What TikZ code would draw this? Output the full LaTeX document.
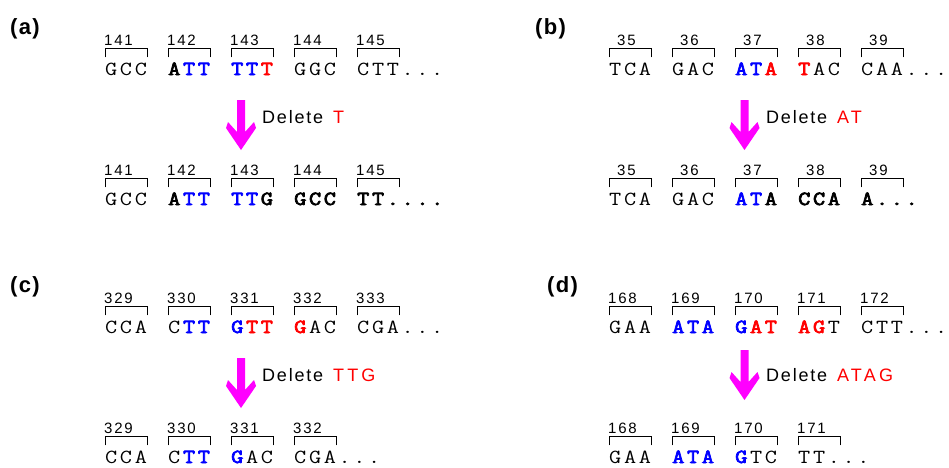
\documentclass[tikz,border=0pt]{standalone}
\usepackage{fontspec}
\setmainfont{Liberation Sans}
\newfontfamily\numfont[LetterSpace=12]{Liberation Sans}
\newfontfamily\delfont[LetterSpace=10]{Liberation Sans}
\newfontfamily\redfont[LetterSpace=18]{Liberation Sans}
\newfontfamily\lblfont[LetterSpace=6]{Liberation Sans}
\newfontfamily\dnafont[FakeStretch=1.18]{Latin Modern Mono}
\newfontfamily\dnabf[FakeStretch=1.18,FakeBold=3.6]{Latin Modern Mono}
\definecolor{arrmag}{RGB}{255,0,255}
\definecolor{dnablue}{RGB}{0,0,255}
\definecolor{dnared}{RGB}{255,0,0}
\makeatletter
\newlength\cw \setlength\cw{14.8pt}
\newcommand\dn[1]{\@tfor\dnx:=#1\do{\makebox[\cw][l]{\dnx}}}
\makeatother
\newcommand\BB{\dnabf\color{dnablue}}
\newcommand\BR{\dnabf\color{dnared}}
\newcommand\BK{\dnabf\color{black}}
\newcommand\NK{\dnafont\color{black}}
% #1 name, #2 x, #3 number baseline y, #4 number, #5 number x offset, #6 letters
\newcommand\codon[6]{%
  \node[numsty, anchor=base west] (#1n) at (#2+#5, #3) {#4};
  \draw[brk] (#2, #3+12) -- (#2, #3+3.3) -- (#2+42.7, #3+3.3) -- (#2+42.7, #3+12);
  \node[dnasty, anchor=base west] (#1s) at (#2, #3+30) {#6};
}
% #1 centre x, #2 top y
\newcommand\dnarrow[2]{%
  \fill[arr] (#1-4,#2) -- (#1+4,#2) -- (#1+4,#2+32) -- (#1+13,#2+22) -- (#1+15,#2+28)
    -- (#1,#2+50) -- (#1-15,#2+28) -- (#1-13,#2+22) -- (#1-4,#2+32) -- cycle;
}
\newcommand\delred[1]{\hspace{3pt}{\redfont\color{dnared}#1}}
\tikzset{
  numsty/.style={inner sep=0pt, font=\numfont\fontsize{15}{15}\selectfont},
  dnasty/.style={inner sep=0pt, font=\dnafont\fontsize{20}{20}\selectfont},
  brk/.style={line width=0.9pt, line cap=rect},
  delsty/.style={inner sep=0pt, anchor=base west, font=\delfont\fontsize{18}{18}\selectfont},
  lblsty/.style={inner sep=0pt, anchor=base west, font=\lblfont\bfseries\fontsize{22}{22}\selectfont},
  arr/.style={fill=arrmag, draw=none}
}
\begin{document}
\begin{tikzpicture}[x=1pt, y=-1pt]
\useasboundingbox[fill=white] (0,0) rectangle (949,467);

% ---------- (a) ----------
\node[lblsty] (la) at (10,34) {(a)};
\codon{aT1}{105}{45}{141}{-1}{\dn{GCC}}
\codon{aT2}{168}{45}{142}{-1}{{\BK\dn{A}\BB\dn{TT}}}
\codon{aT3}{231}{45}{143}{-1}{{\BB\dn{TT}\BR\dn{T}}}
\codon{aT4}{294}{45}{144}{-1}{\dn{GGC}}
\codon{aT5}{357}{45}{145}{-1}{\dn{CTT...}}
\dnarrow{241}{100}
\node[delsty] (da) at (262,123.3) {Delete \delred{T}};
\codon{aB1}{105}{175}{141}{-1}{\dn{GCC}}
\codon{aB2}{168}{175}{142}{-1}{{\BK\dn{A}\BB\dn{TT}}}
\codon{aB3}{231}{175}{143}{-1}{{\BB\dn{TT}\BK\dn{G}}}
\codon{aB4}{294}{175}{144}{-1}{{\BK\dn{GCC}}}
\codon{aB5}{357}{175}{145}{-1}{{\BK\dn{TT....}}}

% ---------- (b) ----------
\node[lblsty] (lb) at (535,34) {(b)};
\codon{bT1}{609}{45}{35}{8}{\dn{TCA}}
\codon{bT2}{672}{45}{36}{8}{\dn{GAC}}
\codon{bT3}{735}{45}{37}{8}{{\BB\dn{AT}\BR\dn{A}}}
\codon{bT4}{798}{45}{38}{8}{{\BR\dn{T}\NK\dn{AC}}}
\codon{bT5}{861}{45}{39}{8}{\dn{CAA...}}
\dnarrow{744.5}{100}
\node[delsty] (db) at (766,123.3) {Delete \delred{AT}};
\codon{bB1}{609}{175}{35}{8}{\dn{TCA}}
\codon{bB2}{672}{175}{36}{8}{\dn{GAC}}
\codon{bB3}{735}{175}{37}{8}{{\BB\dn{AT}\BK\dn{A}}}
\codon{bB4}{798}{175}{38}{8}{{\BK\dn{CCA}}}
\codon{bB5}{861}{175}{39}{8}{{\BK\dn{A...}}}

% ---------- (c) ----------
\node[lblsty] (lc) at (10,292) {(c)};
\codon{cT1}{105}{303}{329}{-1}{\dn{CCA}}
\codon{cT2}{168}{303}{330}{-1}{{\dn{C}\BB\dn{TT}}}
\codon{cT3}{231}{303}{331}{-1}{{\BB\dn{G}\BR\dn{TT}}}
\codon{cT4}{294}{303}{332}{-1}{{\BR\dn{G}\NK\dn{AC}}}
\codon{cT5}{357}{303}{333}{-1}{\dn{CGA...}}
\dnarrow{241}{358}
\node[delsty] (dc) at (262,381.5) {Delete \delred{TTG}};
\codon{cB1}{105}{433}{329}{-1}{\dn{CCA}}
\codon{cB2}{168}{433}{330}{-1}{{\dn{C}\BB\dn{TT}}}
\codon{cB3}{231}{433}{331}{-1}{{\BB\dn{G}\NK\dn{AC}}}
\codon{cB4}{294}{433}{332}{-1}{\dn{CGA...}}

% ---------- (d) ----------
\node[lblsty] (ld) at (547,292) {(d)};
\codon{dT1}{609}{303}{168}{-1}{\dn{GAA}}
\codon{dT2}{672}{303}{169}{-1}{{\BB\dn{ATA}}}
\codon{dT3}{735}{303}{170}{-1}{{\BB\dn{G}\BR\dn{AT}}}
\codon{dT4}{798}{303}{171}{-1}{{\BR\dn{AG}\NK\dn{T}}}
\codon{dT5}{861}{303}{172}{-1}{\dn{CTT...}}
\dnarrow{744.5}{350}
\node[delsty] (dd) at (766,381.5) {Delete \delred{ATAG}};
\codon{dB1}{609}{433}{168}{-1}{\dn{GAA}}
\codon{dB2}{672}{433}{169}{-1}{{\BB\dn{ATA}}}
\codon{dB3}{735}{433}{170}{-1}{{\BB\dn{G}\NK\dn{TC}}}
\codon{dB4}{798}{433}{171}{-1}{\dn{TT...}}
\end{tikzpicture}
\end{document}
